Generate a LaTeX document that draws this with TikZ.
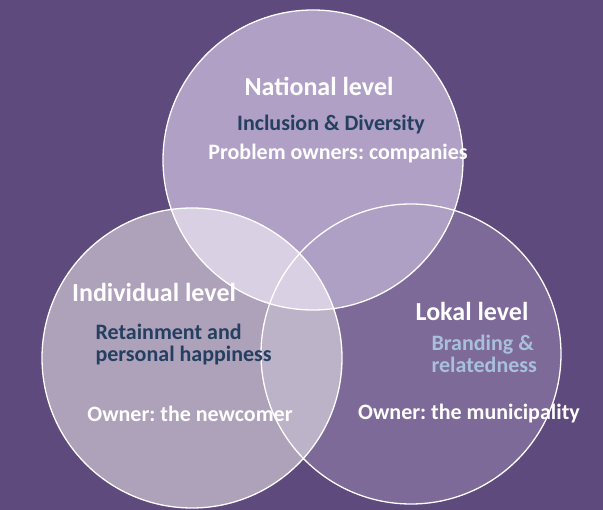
\documentclass[tikz,border=0pt]{standalone}
\usepackage{fontspec}
\setmainfont{Carlito}
\usepackage{tikz}
\usetikzlibrary{positioning}
\definecolor{venngrape}{HTML}{5E4A7C}
\definecolor{venntop}{HTML}{B0A0C6}
\definecolor{vennleft}{HTML}{AEA1BA}
\definecolor{vennright}{HTML}{7D6A98}
\definecolor{venntl}{HTML}{D9D1E3}
\definecolor{vennlr}{HTML}{BCB3C9}
\definecolor{venntr}{HTML}{AEA0C4}
\definecolor{navyink}{HTML}{243F60}
\definecolor{skyink}{HTML}{A8C0DA}
\frenchspacing

\begin{document}
\begin{tikzpicture}[x=1pt, y=-1pt, font=\bfseries]
  \fill[venngrape] (0,0) rectangle (603,510);
  \useasboundingbox (0,0) rectangle (603,510);
  \coordinate (natl) at (313,160);
  \coordinate (indiv) at (192,358);
  \coordinate (lokal) at (411,354);
  % circle fills
  \fill[venntop] (natl) circle (150);
  \fill[vennright] (lokal) circle (150);
  \fill[vennleft] (indiv) circle (150);
  % overlaps
  \begin{scope}
    \clip (natl) circle (150);
    \fill[venntr] (lokal) circle (150);
    \fill[venntl] (indiv) circle (150);
  \end{scope}
  \begin{scope}
    \clip (lokal) circle (150);
    \clip (indiv) circle (150);
    \fill[vennlr] (lokal) circle (150);
    \clip (natl) circle (150);
    \fill[venntl] (lokal) circle (150);
  \end{scope}
  % outlines
  \draw[white, line width=1.3pt] (natl) circle (150) (indiv) circle (150) (lokal) circle (150);
  % national
  \node[white, font=\bfseries\fontsize{26}{28}\selectfont] (t1) at (319,86) {National level};
  \node[navyink, font=\bfseries\fontsize{22}{22}\selectfont] (t1a) at (331,125) {Inclusion \& Diversity};
  \node[white, font=\bfseries\fontsize{22}{22}\selectfont] (t1b) at (338,154) {Problem owners: companies};
  % individual
  \node[white, font=\bfseries\fontsize{26}{28}\selectfont] (t2) at (154,292) {Individual level};
  \node[navyink, font=\bfseries\fontsize{22}{22}\selectfont, align=left, anchor=west] (t2a) at (92,345) {Retainment and\\personal happiness};
  \node[white, font=\bfseries\fontsize{22}{22}\selectfont] (t2b) at (190,414) {Owner: the newcomer};
  % lokal
  \node[white, font=\bfseries\fontsize{26}{28}\selectfont] (t3) at (472,311) {Lokal level};
  \node[skyink, font=\bfseries\fontsize{22}{22}\selectfont, align=left, anchor=west] (t3a) at (428,354) {Branding \&\\relatedness};
  \node[white, font=\bfseries\fontsize{22}{22}\selectfont] (t3b) at (469,414) {Owner: the municipality};
\end{tikzpicture}
\end{document}
